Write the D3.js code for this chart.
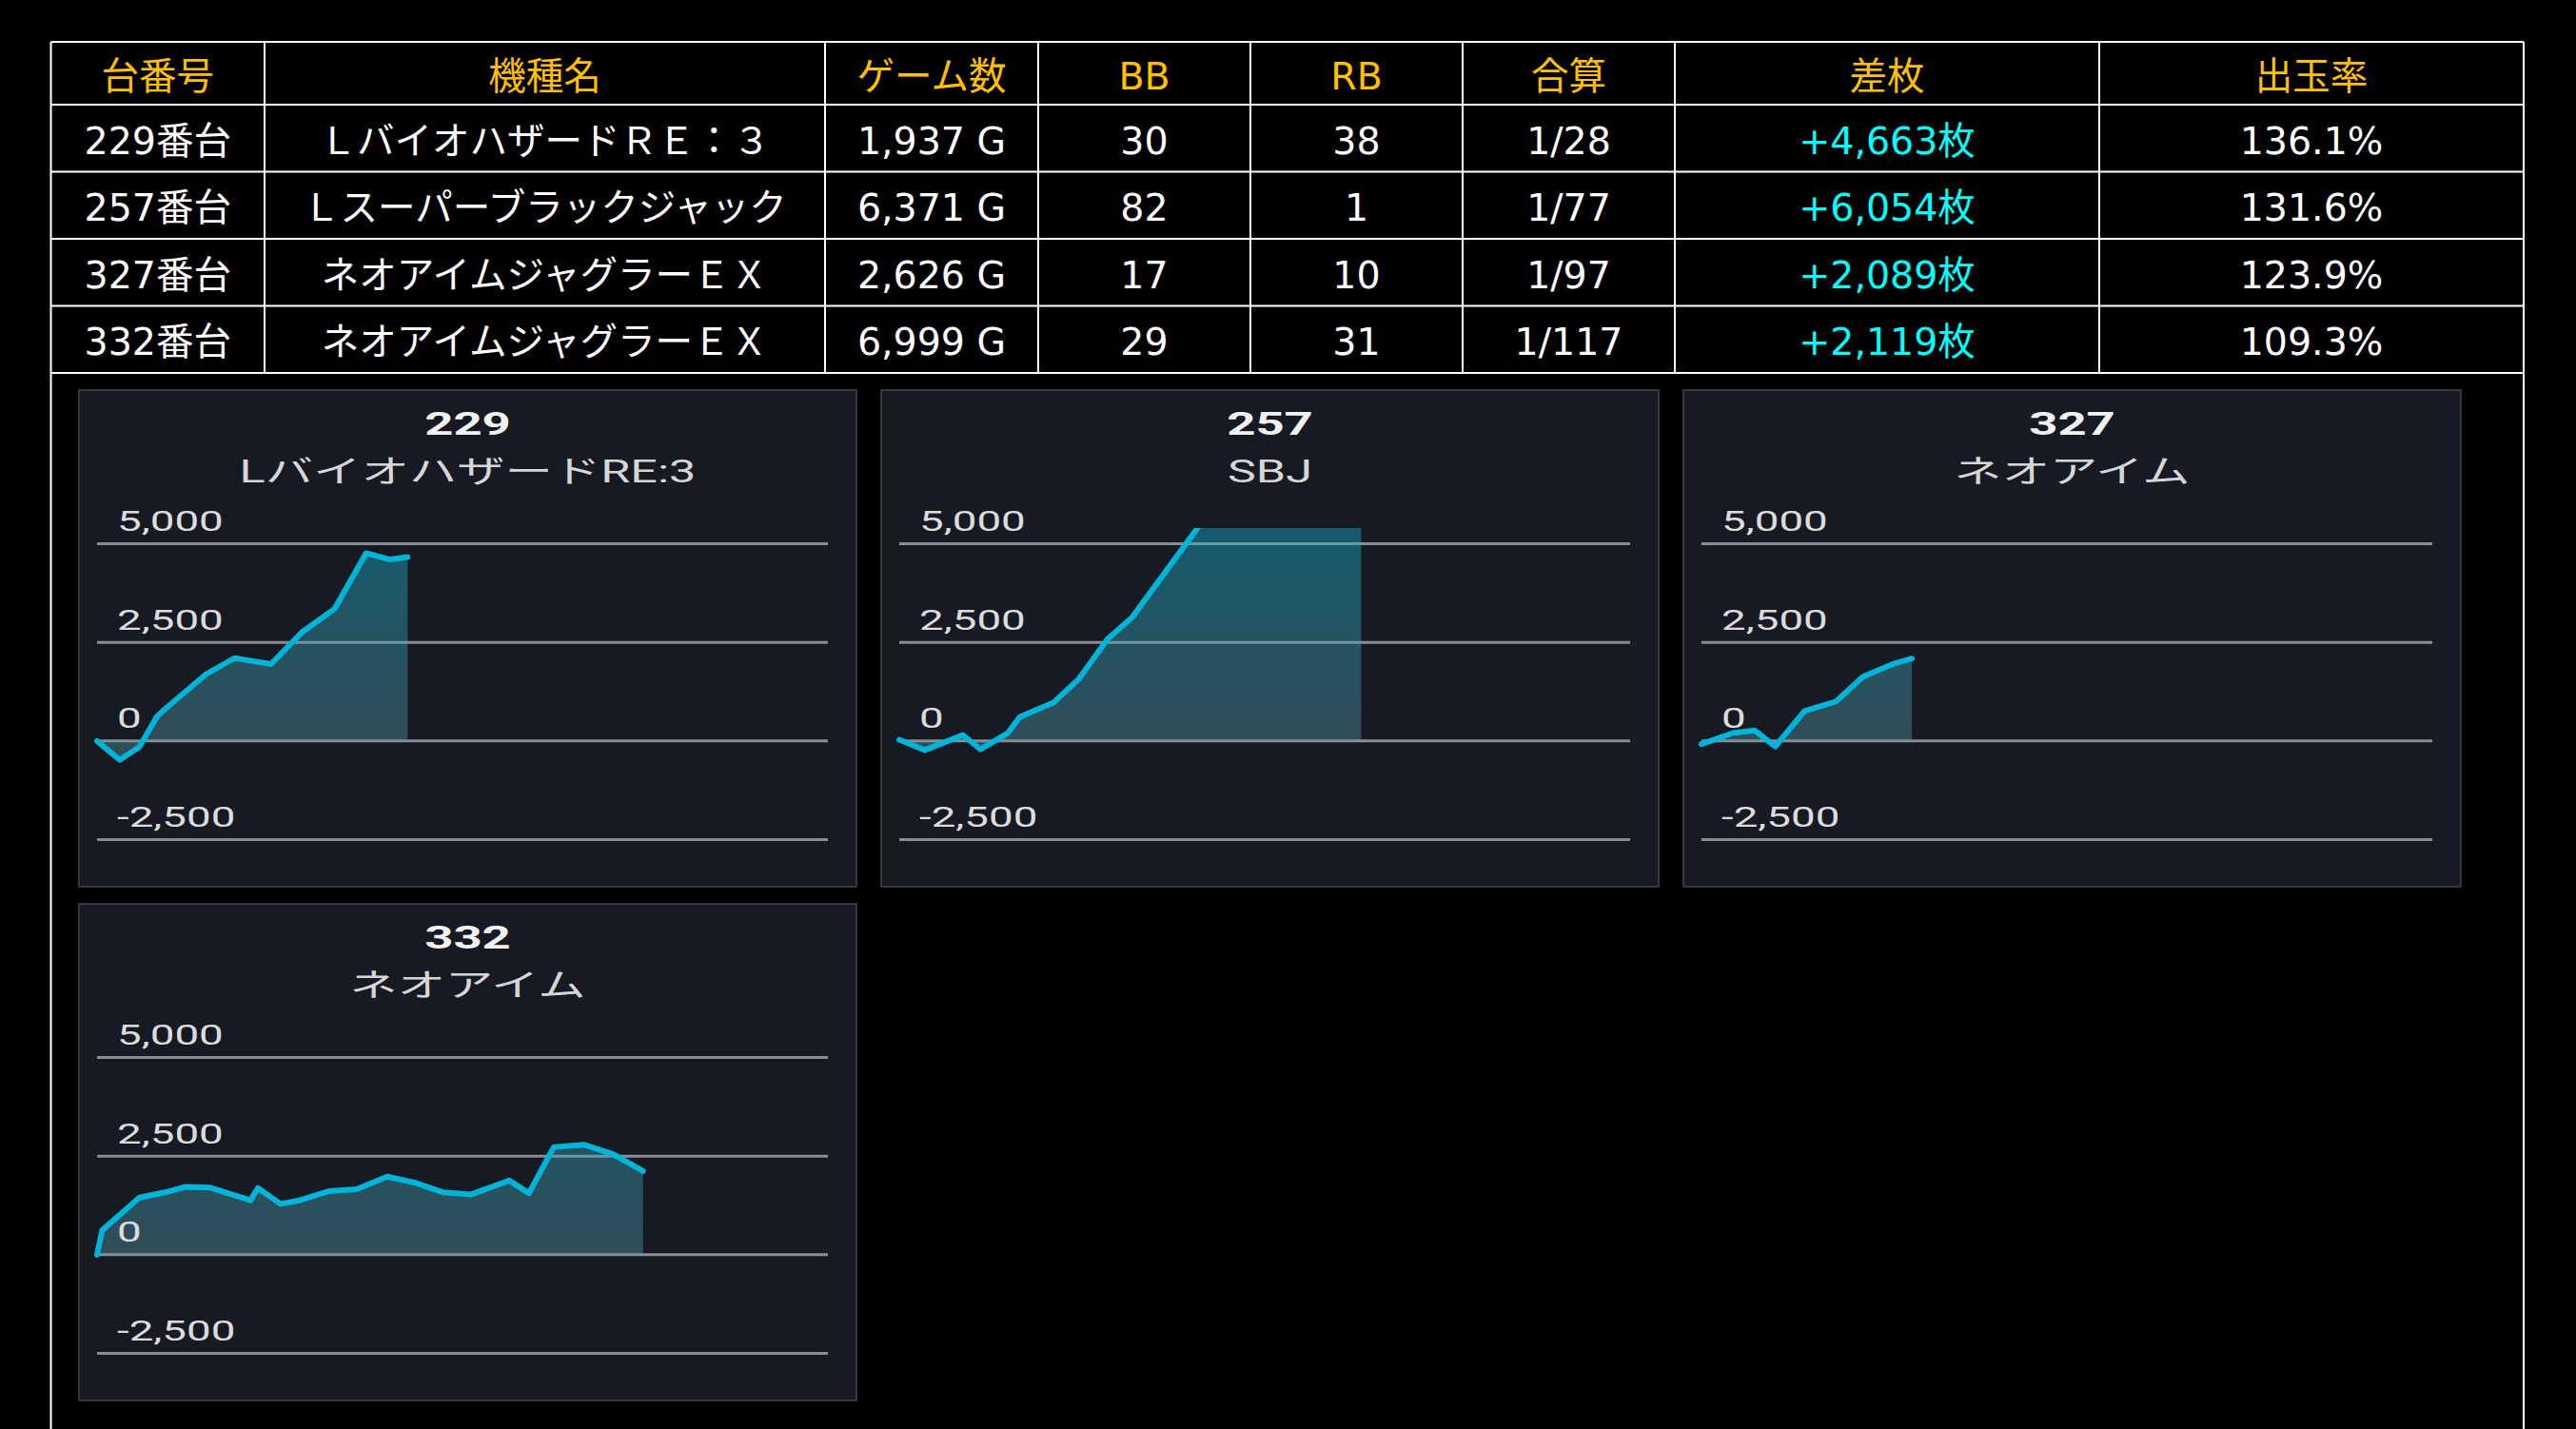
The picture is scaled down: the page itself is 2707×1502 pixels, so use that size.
<!DOCTYPE html>
<html>
<head>
<meta charset="utf-8">
<script src="https://cdn.jsdelivr.net/npm/d3@7"></script>
<style>
  html, body { margin: 0; padding: 0; background: #000; overflow: hidden; }
</style>
</head>
<body>
<div id="board"></div>
<script>
// table data
var headers = ['台番号', '機種名', 'ゲーム数', 'BB', 'RB', '合算', '差枚', '出玉率'];
var machineNo = ['229番台', '257番台', '327番台', '332番台'];
var machineName = ['ＬバイオハザードＲＥ：３', 'Ｌスーパーブラックジャック', 'ネオアイムジャグラーＥＸ', 'ネオアイムジャグラーＥＸ'];
var gameCount = [1937, 6371, 2626, 6999];
var bbCount = [30, 82, 17, 29];
var rbCount = [38, 1, 10, 31];
var combinedOdds = [28, 77, 97, 117];
var diffCoins = [4663, 6054, 2089, 2119];
var payoutRate = [136.1, 131.6, 123.9, 109.3];

// slump charts (x = progress through the day, 0-100)
var chartNo = ['229', '257', '327', '332'];
var chartName = ['LバイオハザードRE:3', 'SBJ', 'ネオアイム', 'ネオアイム'];
var yTicks = [-2500, 0, 2500, 5000];

var x229 = [0, 3.1, 5.8, 8.2, 9.0, 14.9, 18.8, 23.8, 28.0, 32.5, 36.8, 40.1, 42.5];
var y229 = [0, -480, -150, 620, 760, 1690, 2100, 1950, 2750, 3350, 4760, 4600, 4663];

var x257 = [0, 3.5, 8.7, 11.1, 14.8, 16.5, 21.1, 24.6, 28.5, 31.9, 42.0, 48.0, 55.0, 63.2];
var y257 = [30, -230, 150, -210, 190, 610, 970, 1580, 2580, 3140, 5700, 6150, 6300, 6054];

var x327 = [0, 4.3, 7.3, 10.1, 14.1, 18.4, 22.1, 26.2, 28.8];
var y327 = [-80, 200, 265, -140, 760, 1000, 1630, 1950, 2089];

var x332 = [0, 0.7, 5.8, 9.3, 12.1, 15.5, 21.0, 22.0, 25.1, 27.5, 31.7, 35.5, 39.7, 43.4, 47.4, 51.2, 56.4, 59.1, 62.5, 66.6, 70.6, 74.7];
var y332 = [0, 620, 1450, 1580, 1720, 1700, 1380, 1690, 1290, 1370, 1610, 1660, 1980, 1830, 1580, 1530, 1880, 1560, 2730, 2790, 2550, 2119];

var seriesX = [x229, x257, x327, x332];
var seriesY = [y229, y257, y327, y332];

var W = 2707, H = 1502;
var svg = d3.select('#board').append('svg')
    .attr('width', W)
    .attr('height', H)
    .style('display', 'block')
    .style('background', '#000');

// ---------- table ----------
var colEdges = [53.5, 278, 867, 1091, 1314, 1537, 1760, 2206, 2652];
var tableTop = 44, headH = 66, rowH = 70.5;
var rowEdges = [tableTop, tableTop + headH];
for (var r = 1; r <= 4; r++) rowEdges.push(tableTop + headH + r * rowH);

var tableFont = '"DejaVu Sans", "Noto Sans CJK JP", sans-serif';
var comma = d3.format(',');
function num(v) { return comma(v).replace('\u2212', '-'); }

var rows = machineNo.map(function(d, i) {
    return [d, machineName[i], num(gameCount[i]) + ' G', bbCount[i], rbCount[i],
        '1/' + combinedOdds[i], '+' + num(diffCoins[i]) + '枚', payoutRate[i].toFixed(1) + '%'];
});

var table = svg.append('g');

table.selectAll('.hline')
    .data(rowEdges)
    .enter().append('line')
    .attr('x1', colEdges[0]).attr('x2', colEdges[colEdges.length - 1])
    .attr('y1', function(d) { return d; })
    .attr('y2', function(d) { return d; })
    .style('stroke', '#fff').style('stroke-width', 2.2);

table.selectAll('.vline')
    .data(colEdges)
    .enter().append('line')
    .attr('x1', function(d) { return d; })
    .attr('x2', function(d) { return d; })
    .attr('y1', tableTop)
    .attr('y2', function(d, i) { return (i == 0 || i == colEdges.length - 1) ? H : rowEdges[rowEdges.length - 1]; })
    .style('stroke', '#fff').style('stroke-width', 2);

function colCenter(i) { return (colEdges[i] + colEdges[i + 1]) / 2; }

table.selectAll('.head')
    .data(headers)
    .enter().append('text')
    .attr('x', function(d, i) { return colCenter(i); })
    .attr('y', tableTop + 49.5)
    .attr('text-anchor', 'middle')
    .style('font-family', tableFont)
    .style('font-size', '39.5px')
    .style('fill', '#FFC000')
    .text(function(d) { return d; });

rows.forEach(function(row, ri) {
    table.selectAll('.cell' + ri)
        .data(row)
        .enter().append('text')
        .attr('x', function(d, i) { return colCenter(i); })
        .attr('y', rowEdges[ri + 1] + 51.5)
        .attr('text-anchor', 'middle')
        .style('font-family', tableFont)
        .style('font-size', '39.5px')
        .style('fill', function(d, i) { return i == 6 ? '#00FFFF' : '#fff'; })
        .text(function(d) { return d; });
});

// ---------- charts ----------
var panelW = 817, panelH = 522;
var panelLeft = [83, 926, 1769];
var panelTop = [410, 950];
var chartFont = 'Roboto, "Noto Sans CJK JP", sans-serif';
var stretch = 1.55;

var x = d3.scaleLinear().domain([0, 100]).range([19, 787]);
var y = d3.scaleLinear().domain([-2500, 5000]).range([472.5, 161.5]);

var defs = svg.append('defs');
var grad = defs.append('linearGradient')
    .attr('id', 'slumpFill')
    .attr('gradientUnits', 'userSpaceOnUse')
    .attr('x1', 0).attr('x2', 0)
    .attr('y1', y(5400)).attr('y2', y(0));
grad.append('stop').attr('offset', '0%').attr('stop-color', 'rgb(20,180,212)').attr('stop-opacity', 0.42);
grad.append('stop').attr('offset', '100%').attr('stop-color', 'rgb(90,160,175)').attr('stop-opacity', 0.38);

defs.append('clipPath').attr('id', 'plotClip')
    .append('rect')
    .attr('x', 0).attr('y', y(5400))
    .attr('width', panelW).attr('height', y(-3000) - y(5400));

chartNo.forEach(function(no, ci) {
    var px = panelLeft[ci % 3], py = panelTop[Math.floor(ci / 3)];
    var g = svg.append('g').attr('transform', 'translate(' + px + ',' + py + ')');

    g.append('rect')
        .attr('x', 0).attr('y', 0)
        .attr('width', panelW).attr('height', panelH)
        .style('fill', '#171A23')
        .style('stroke', '#43464d')
        .style('stroke-width', 1.5);

    g.append('text')
        .attr('transform', 'translate(' + panelW / 2 + ',47) scale(' + stretch + ',1)')
        .attr('text-anchor', 'middle')
        .style('font-family', chartFont)
        .style('font-weight', 'bold')
        .style('font-size', '34px')
        .style('fill', '#f2f2f2')
        .text(no);

    g.append('text')
        .attr('transform', 'translate(' + panelW / 2 + ',97) scale(' + stretch + ',1)')
        .attr('text-anchor', 'middle')
        .style('font-family', chartFont)
        .style('font-size', '32.5px')
        .style('fill', '#d6d6d6')
        .text(chartName[ci]);

    // grid
    g.selectAll('.grid')
        .data(yTicks)
        .enter().append('line')
        .attr('x1', x(0)).attr('x2', x(100))
        .attr('y1', function(d) { return y(d); })
        .attr('y2', function(d) { return y(d); })
        .style('stroke', '#8a8c92')
        .style('stroke-width', 3);

    var pts = seriesX[ci].map(function(d, i) { return [d, seriesY[ci][i]]; });

    var plot = g.append('g').attr('clip-path', 'url(#plotClip)');

    plot.append('path')
        .datum(pts)
        .attr('d', d3.area()
            .x(function(d) { return x(d[0]); })
            .y0(y(0))
            .y1(function(d) { return y(d[1]); }))
        .style('fill', 'url(#slumpFill)');

    plot.append('path')
        .datum(pts)
        .attr('d', d3.line()
            .x(function(d) { return x(d[0]); })
            .y(function(d) { return y(d[1]); }))
        .style('fill', 'none')
        .style('stroke', '#00B4D8')
        .style('stroke-width', 6)
        .style('stroke-linejoin', 'round')
        .style('stroke-linecap', 'round');

    g.selectAll('.tick')
        .data(yTicks)
        .enter().append('text')
        .attr('transform', function(d) {
            return 'translate(40,' + (y(d) - 13.5) + ') scale(' + stretch + ',1)';
        })
        .style('font-family', chartFont)
        .style('font-size', '29.5px')
        .style('fill', '#dcdcdc')
        .text(function(d) { return num(d); });
});
</script>
</body>
</html>
